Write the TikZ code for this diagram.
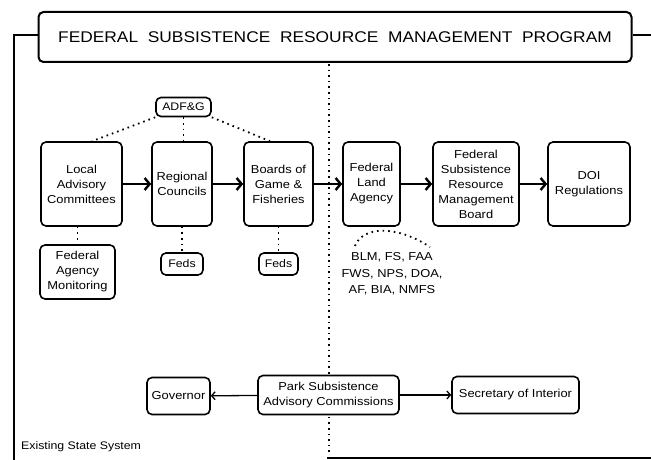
\documentclass[tikz,border=0pt]{standalone}
\usepackage{fontspec}
\setmainfont{Liberation Sans}[FakeStretch=1.12]
\usetikzlibrary{arrows.meta}
\begin{document}
\begin{tikzpicture}[x=1pt,y=-1pt,
  box/.style={draw, line width=1.6pt, rounded corners=5pt, align=center, inner sep=1pt,
    font=\fontsize{11.5}{15}\selectfont},
  smallbox/.style={box, font=\fontsize{11}{13}\selectfont},
  flow/.style={line width=2.4pt, -{Straight Barb[length=5pt,width=12pt]}},
  thinflow/.style={line width=1.3pt, -{Straight Barb[length=3.5pt,width=8pt]}},
  dots/.style={line width=1.8pt, dash pattern=on 1.6pt off 4pt},
  frame/.style={line width=2pt}]
\useasboundingbox (0,0) rectangle (651,460);
% title
\node[draw, line width=2pt, rounded corners=5pt, minimum width=593pt, minimum height=50pt,
  font=\fontsize{15.5}{18}\selectfont] (title) at (335,37)
  {FEDERAL\ \ SUBSISTENCE\ \ RESOURCE\ \ MANAGEMENT\ \ PROGRAM};
% frame
\coordinate (fl) at (14,35);
\coordinate (fb) at (14,460);
\coordinate (fr) at (651,35);
\draw[frame] (title.west |- fl) -- (fl) -- (fb);
\draw[frame] (title.east |- fr) -- (fr);
\coordinate (bl1) at (327,458);
\coordinate (bl2) at (651,458);
\draw[line width=1.6pt] (bl1) -- (bl2);
% dotted divider
\coordinate (dv1) at (329,64);
\coordinate (dv2) at (329,455);
\draw[dots] (dv1) -- (dv2);
% main row
\node[box, minimum width=81pt, minimum height=84pt] (local) at (81.5,184) {Local\\Advisory\\Committees};
\node[box, minimum width=60pt, minimum height=84pt] (regional) at (182,184) {Regional\\Councils};
\node[box, minimum width=69pt, minimum height=84pt] (boards) at (278.5,184) {Boards of\\Game \&\\Fisheries};
\node[box, minimum width=57pt, minimum height=84pt] (fla) at (371.5,184) {Federal\\Land\\Agency};
\node[box, minimum width=86pt, minimum height=84pt] (fsrmb) at (476,184) {Federal\\Subsistence\\Resource\\Management\\Board};
\node[box, minimum width=82pt, minimum height=84pt] (doi) at (589,184) {DOI\\Regulations};
\node[smallbox, minimum width=55pt, minimum height=19pt] (adfg) at (183.5,107) {ADF\&G};
\node[box, minimum width=75pt, minimum height=54pt] (fam) at (77.5,272) {Federal\\Agency\\Monitoring};
\node[smallbox, minimum width=42pt, minimum height=22pt] (feds1) at (182,264) {Feds};
\node[smallbox, minimum width=39pt, minimum height=22pt] (feds2) at (278.5,264) {Feds};
\node[align=center, inner sep=0pt, font=\fontsize{11.5}{16.5}\selectfont] (blm) at (392,274)
  {BLM, FS, FAA\\FWS, NPS, DOA,\\AF, BIA, NMFS};
% arrows
\draw[flow] (local) -- (regional);
\draw[flow] (regional) -- (boards);
\draw[flow] (boards) -- (fla);
\draw[flow] (fla) -- (fsrmb);
\draw[flow] (fsrmb) -- (doi);
% dotted links
\draw[dots] (adfg.south west) -- (local.north -| 92,0);
\draw[dots] (adfg.south) -- (regional.north -| adfg.south);
\draw[dots] (adfg.south east) -- (boards.north -| 270,0);
\draw[dots] (local.south -| fam.north) -- (fam.north);
\draw[dots] (regional.south -| feds1.north) -- (feds1.north);
\draw[dots] (boards.south -| feds2.north) -- (feds2.north);
\coordinate (h1) at (355,246);
\coordinate (h2) at (430,247);
\draw[dots] (h1) .. controls (362,227) and (395,224) .. (h2);
% bottom row
\node[box, minimum width=63pt, minimum height=37pt] (gov) at (178.5,396) {Governor};
\node[box, minimum width=141pt, minimum height=39pt, fill=white] (park) at (328.5,395) {Park Subsistence\\Advisory Commissions};
\node[box, minimum width=127pt, minimum height=37pt] (sec) at (515.5,395) {Secretary of Interior};
\draw[thinflow] (park) -- (gov);
\draw[thinflow] (park) -- (sec);
\node[anchor=west, inner sep=0pt, font=\fontsize{11}{13}\selectfont] (ess) at (21,447) {Existing State System};
\end{tikzpicture}
\end{document}
